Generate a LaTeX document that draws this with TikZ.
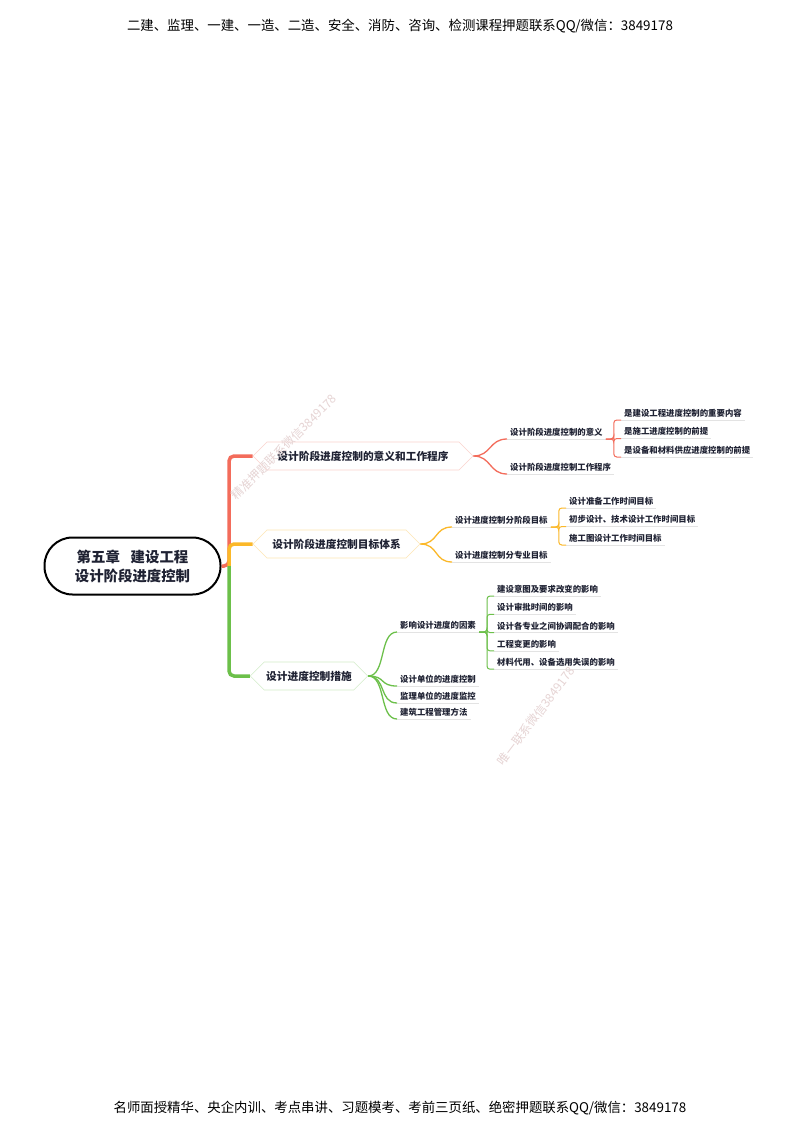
\documentclass[tikz,border=0pt]{standalone}
\usepackage{fontspec}
\setmainfont{Noto Sans CJK SC}
\usepackage{tikz}
\usetikzlibrary{shapes.symbols}
\definecolor{tred}{HTML}{F36C5B}
\definecolor{tyel}{HTML}{FBB829}
\definecolor{tgrn}{HTML}{6CC04A}
\definecolor{ink}{HTML}{1F2233}
\definecolor{wmark}{HTML}{E6D4D4}
\tikzstyle{root}=[draw=black,line width=2pt,rounded corners=28pt,minimum width=176pt,minimum height=57pt,align=center,text=ink,font=\bfseries\fontsize{14.4}{19}\selectfont]
\tikzstyle{topic}=[shape=signal,signal to=west and east,fill=white,line width=.6pt,minimum height=28pt,inner xsep=2pt,text=ink,font=\bfseries\fontsize{10.7}{12}\selectfont]
\tikzstyle{sub}=[anchor=south west,inner xsep=3pt,inner ysep=2.5pt,text=ink,font=\bfseries\fontsize{8.4}{10}\selectfont,
  append after command={(\tikzlastnode.south west) edge[draw=gray!22,line width=.6pt] (\tikzlastnode.south east)}]
\tikzstyle{trunk}=[line width=3.5pt,rounded corners=5pt]
\tikzstyle{twig}=[line width=1.3pt]
\tikzstyle{bar}=[line width=1pt,rounded corners=3pt]
\tikzstyle{wm}=[text=wmark,font=\fontsize{12}{12}\selectfont]
\tikzstyle{banner}=[font=\fontsize{13.4}{16}\selectfont]
\begin{document}
\begin{tikzpicture}[x=1pt,y=-1pt]
	\fill[white] (0,0) rectangle (800,1130);
	\useasboundingbox (0,0) rectangle (800,1130);
	\node[banner] (head) at (400,26) {二建、监理、一建、一造、二造、安全、消防、咨询、检测课程押题联系QQ/微信：3849178};
	\node[banner] (foot) at (400,1108) {名师面授精华、央企内训、考点串讲、习题模考、考前三页纸、绝密押题联系QQ/微信：3849178};
	\node[root] (root) at (132.5,566) {第五章\hspace{.75em}建设工程\\设计阶段进度控制};
	\coordinate (fork) at (229,566);
	\node[topic,draw=tred!30,minimum width=220pt] (h1) at (363,456) {设计阶段进度控制的意义和工作程序};
	\node[topic,draw=tyel!35,minimum width=167pt] (h2) at (336.5,544) {设计阶段进度控制目标体系};
	\node[topic,draw=tgrn!30,minimum width=112pt] (h3) at (309,676) {设计进度控制措施};
	\draw[trunk,tred] (root.east) -- (fork) |- (h1.west);
	\draw[trunk,tyel] (fork) |- (h2.west);
	\draw[trunk,tgrn] (fork) |- (h3.west);
	\node[sub] (a1) at (507,439) {设计阶段进度控制的意义};
	\node[sub] (a2) at (507,474) {设计阶段进度控制工作程序};
	\foreach \n in {a1,a2}
	  \draw[twig,tred] (h1.east) .. controls +(18,0) and +(-18,0) .. (\n.south west);
	\foreach \t [count=\i] in {是建设工程进度控制的重要内容,是施工进度控制的前提,是设备和材料供应进度控制的前提}{
	  \node[sub] (b\i) at (621,401.5+18.5*\i) {\t};
	  \draw[bar,tred] (a1.south east) -- ++(8,0) |- (b\i.south west);
	}
	\node[sub] (c1) at (452,527) {设计进度控制分阶段目标};
	\node[sub] (c2) at (452,562) {设计进度控制分专业目标};
	\foreach \n in {c1,c2}
	  \draw[twig,tyel] (h2.east) .. controls +(18,0) and +(-18,0) .. (\n.south west);
	\foreach \t [count=\i] in {设计准备工作时间目标,初步设计、技术设计工作时间目标,施工图设计工作时间目标}{
	  \node[sub] (d\i) at (566,489.5+18.5*\i) {\t};
	  \draw[bar,tyel] (c1.south east) -- ++(8,0) |- (d\i.south west);
	}
	\node[sub] (e1) at (397,632) {影响设计进度的因素};
	\node[sub] (e2) at (397,686) {设计单位的进度控制};
	\node[sub] (e3) at (397,703) {监理单位的进度监控};
	\node[sub] (e4) at (397,719) {建筑工程管理方法};
	\foreach \n in {e1,e2,e3,e4}
	  \draw[twig,tgrn] (h3.east) .. controls +(18,0) and +(-18,0) .. (\n.south west);
	\foreach \t [count=\i] in {建设意图及要求改变的影响,设计审批时间的影响,设计各专业之间协调配合的影响,工程变更的影响,材料代用、设备选用失误的影响}{
	  \node[sub] (f\i) at (494,577.7+18.3*\i) {\t};
	  \draw[bar,tgrn] (e1.south east) -- ++(8,0) |- (f\i.south west);
	}
	\node[wm,rotate=45] (wm1) at (284,447) {精准押题联系微信3849178};
	\node[wm,rotate=53] (wm2) at (536,716) {唯一联系微信3849178};
\end{tikzpicture}
\end{document}
